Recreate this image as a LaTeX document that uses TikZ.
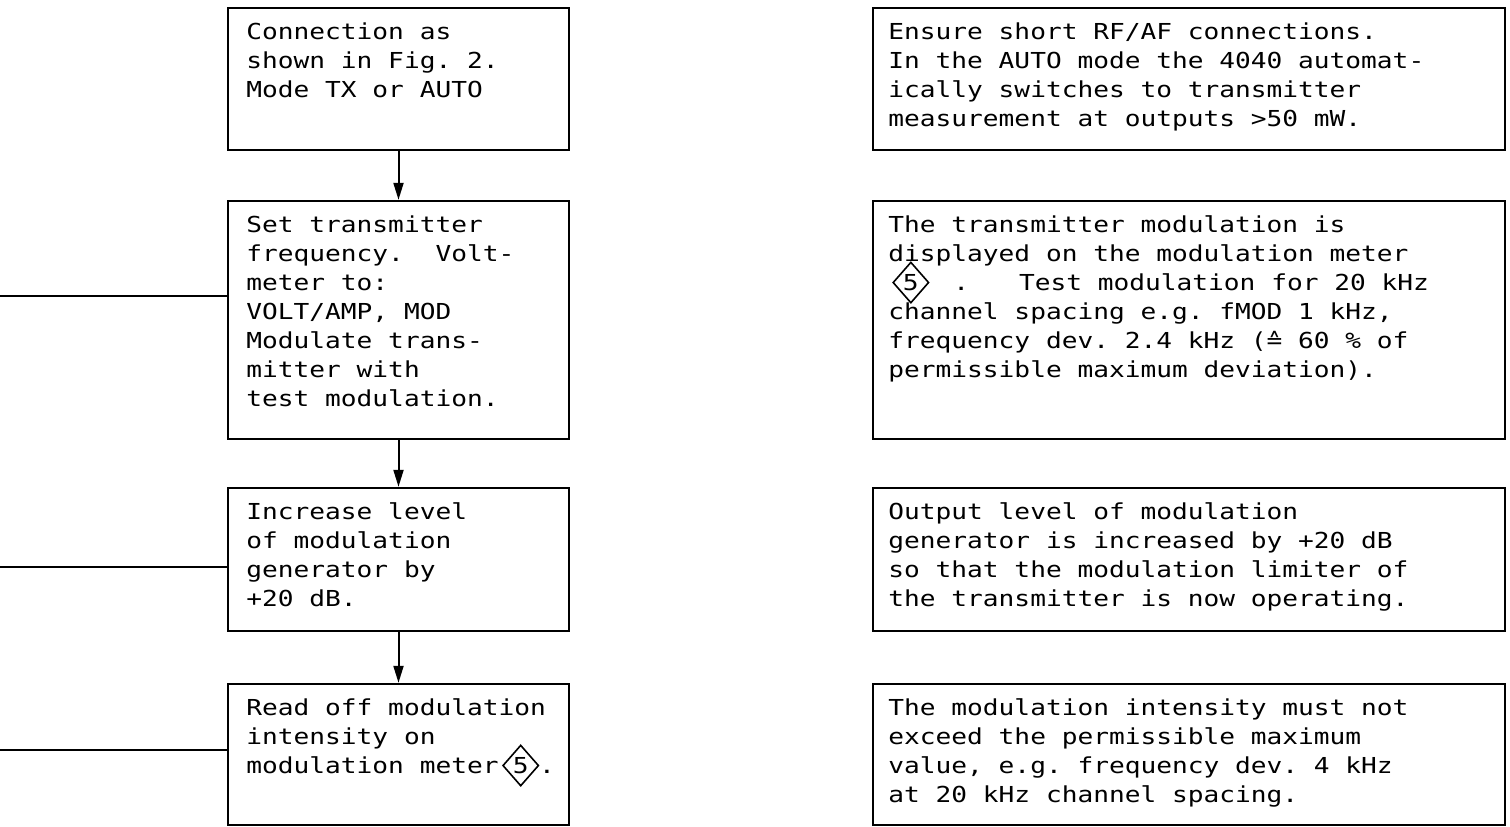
\documentclass[tikz,border=0pt]{standalone}
\usepackage{fontspec}
\newfontfamily\mono[FakeStretch=1.19]{DejaVu Sans Mono}
\usetikzlibrary{arrows.meta,shapes.geometric}
\tikzset{
  box/.style={draw, line width=1.2pt, inner sep=0pt},
  lbox/.style={box, minimum width=170.5pt},
  rbox/.style={box, minimum width=316pt},
  txt/.style={anchor=north west, inner sep=0pt, align=left,
    font=\mono\fontsize{11}{14.5}\selectfont\frenchspacing},
  flow/.style={line width=1pt, -{Triangle[length=8.5pt,width=5pt]}},
  feed/.style={line width=0.9pt},
  dia/.style={draw, diamond, line width=0.8pt, inner sep=0pt,
    minimum width=18pt, minimum height=20.5pt, anchor=base}
}
\newcommand\dfive[1]{\smash{\tikz[baseline=(#1.base)]\node[dia](#1){5};}}
\begin{document}
\begin{tikzpicture}[x=0.5pt,y=-0.5pt]
\useasboundingbox (0,0) rectangle (1510,826);
% left column boxes
\node[lbox, minimum height=71pt]   (l1) at (398.5,79) {};
\node[lbox, minimum height=119pt]  (l2) at (398.5,320) {};
\node[lbox, minimum height=71.5pt] (l3) at (398.5,559.5) {};
\node[lbox, minimum height=70.5pt] (l4) at (398.5,754.5) {};
% right column boxes
\node[rbox, minimum height=71pt]   (r1) at (1189,79) {};
\node[rbox, minimum height=119pt]  (r2) at (1189,320) {};
\node[rbox, minimum height=71.5pt] (r3) at (1189,559.5) {};
\node[rbox, minimum height=70.5pt] (r4) at (1189,754.5) {};
% texts
\node[txt] (t1) at (246,18.7) {\strut Connection as\\shown in Fig. 2.\\Mode TX or AUTO};
\node[txt] (t2) at (246,211.7) {\strut Set transmitter\\frequency.\ \ Volt-\\meter to:\\VOLT/AMP, MOD\\Modulate trans-\\mitter with\\test modulation.};
\node[txt] (t3) at (246,498.7) {\strut Increase level\\of modulation\\generator by\\+20 dB.};
\node[txt] (t4) at (246,694.7) {\strut Read off modulation\\intensity on\\modulation meter\,\dfive{d1}.};
\node[txt] (s1) at (888,18.7) {\strut Ensure short RF/AF connections.\\In the AUTO mode the 4040 automat-\\ically switches to transmitter\\measurement at outputs >50 mW.};
\node[txt] (s2) at (888,211.7) {\strut The transmitter modulation is\\displayed on the modulation meter\\\hspace{2pt}\dfive{d2}\hspace{12pt}.\hspace{25pt}Test modulation for 20 kHz\\channel spacing e.g. fMOD 1 kHz,\\frequency dev. 2.4 kHz (≙ 60 \% of\\permissible maximum deviation).};
\node[txt] (s3) at (888,498.7) {\strut Output level of modulation\\generator is increased by +20 dB\\so that the modulation limiter of\\the transmitter is now operating.};
\node[txt] (s4) at (888,694.7) {\strut The modulation intensity must not\\exceed the permissible maximum\\value, e.g. frequency dev. 4 kHz\\at 20 kHz channel spacing.};
% flow arrows
\draw[flow] (l1.south) -- (l2.north);
\draw[flow] (l2.south) -- (l3.north);
\draw[flow] (l3.south) -- (l4.north);
% feed lines from the left
\coordinate (f2) at (0,296);
\coordinate (f3) at (0,567);
\coordinate (f4) at (0,750);
\draw[feed] (f2) -- (f2 -| l2.west);
\draw[feed] (f3) -- (f3 -| l3.west);
\draw[feed] (f4) -- (f4 -| l4.west);
\end{tikzpicture}
\end{document}
